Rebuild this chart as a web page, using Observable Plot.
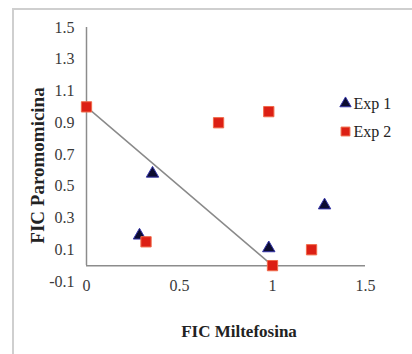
<!DOCTYPE html>
<html>
<head>
<meta charset="utf-8">
<script src="https://cdn.jsdelivr.net/npm/d3@7"></script>
<script src="https://cdn.jsdelivr.net/npm/@observablehq/plot@0.6"></script>
<style>
  html, body { margin: 0; padding: 0; background: #fff; }
  #wrap { position: relative; width: 412px; height: 354px; overflow: hidden; }
  #frame { position: absolute; left: 12px; top: 8px; width: 420px; height: 360px;
           border-left: 2px solid #cfcfcf; border-top: 2px solid #cfcfcf; }
  #chart { position: absolute; left: 0; top: 0; }
</style>
</head>
<body>
<div id="wrap"><div id="frame"></div><div id="chart"></div></div>
<script>
// Exp 1 (triangles)
const exp1X = [0.285, 0.355, 0.98, 1.28];
const exp1Y = [0.19, 0.58, 0.11, 0.38];
// Exp 2 (squares)
const exp2X = [0, 0.32, 0.71, 0.98, 1.0, 1.21];
const exp2Y = [1.0, 0.15, 0.90, 0.97, 0.0, 0.10];
// additivity line
const lineX = [0, 1];
const lineY = [1, 0];
// ticks
const xTicks = [0, 0.5, 1, 1.5];
const yTicks = [-0.1, 0.1, 0.3, 0.5, 0.7, 0.9, 1.1, 1.3, 1.5];
const seriesNames = ["Exp 1", "Exp 2"];
const xTitle = "FIC Miltefosina";
const yTitle = "FIC Paromomicina";

const exp1 = exp1X.map((x, i) => ({x, y: exp1Y[i]}));
const exp2 = exp2X.map((x, i) => ({x, y: exp2Y[i]}));
const line = lineX.map((x, i) => ({x, y: lineY[i]}));

const triFill = "#0c0c30", triStroke = "#3434a8";
const sqFill = "#dc1f14", sqStroke = "#f06a4a";

const chart = Plot.plot({
  width: 412,
  height: 354,
  marginLeft: 86,
  marginRight: 47,
  marginTop: 27,
  marginBottom: 73,
  style: {fontFamily: "'Liberation Serif', 'Times New Roman', serif", background: "transparent"},
  x: {domain: [0, 1.5]},
  y: {domain: [-0.1, 1.5]},
  marks: [
    Plot.axisY(yTicks, {tickSize: 0, tickPadding: 12, fontSize: 16, fill: "#3a3a3a", tickFormat: d => d.toFixed(1), label: null}),
    Plot.axisX(xTicks, {tickSize: 0, tickPadding: -2, fontSize: 16, fill: "#3a3a3a", tickFormat: d => String(d), label: null}),
    Plot.ruleY([0], {x1: 0, x2: 1.5, stroke: "#8c8c8c", strokeWidth: 1.5}),
    Plot.ruleX([0], {y1: 0, y2: 1.5, stroke: "#8c8c8c", strokeWidth: 1.5}),
    Plot.line(line, {x: "x", y: "y", stroke: "#8a8a8a", strokeWidth: 1.5}),
    Plot.dot(exp1, {x: "x", y: "y", symbol: "triangle", r: 4.6, fill: triFill, stroke: triStroke, strokeWidth: 1}),
    Plot.dot(exp2, {x: "x", y: "y", symbol: "square", r: 5.8, fill: sqFill, stroke: sqStroke, strokeWidth: 1}),
    // legend
    Plot.dot([seriesNames[0]], {frameAnchor: "top-right", dx: -20, dy: 76, symbol: "triangle", r: 4.2, fill: triFill, stroke: triStroke, strokeWidth: 1}),
    Plot.text([seriesNames[0]], {frameAnchor: "top-right", dx: -12, dy: 76, text: d => d, textAnchor: "start", lineAnchor: "middle", fontSize: 16, fill: "#222"}),
    Plot.dot([seriesNames[1]], {frameAnchor: "top-right", dx: -20, dy: 104, symbol: "square", r: 5, fill: sqFill, stroke: sqStroke, strokeWidth: 1}),
    Plot.text([seriesNames[1]], {frameAnchor: "top-right", dx: -12, dy: 104, text: d => d, textAnchor: "start", lineAnchor: "middle", fontSize: 16, fill: "#222"}),
    // axis titles
    Plot.text([xTitle], {frameAnchor: "bottom", dx: 13, dy: 50, text: d => d, textAnchor: "middle", lineAnchor: "middle", fontSize: 17, fontWeight: "bold", fill: "#222"}),
    Plot.text([yTitle], {frameAnchor: "left", dx: -49, dy: 11, rotate: -90, text: d => d, textAnchor: "middle", lineAnchor: "middle", fontSize: 19, fontWeight: "bold", fill: "#222"})
  ]
});
document.getElementById("chart").appendChild(chart);
</script>
</body>
</html>
